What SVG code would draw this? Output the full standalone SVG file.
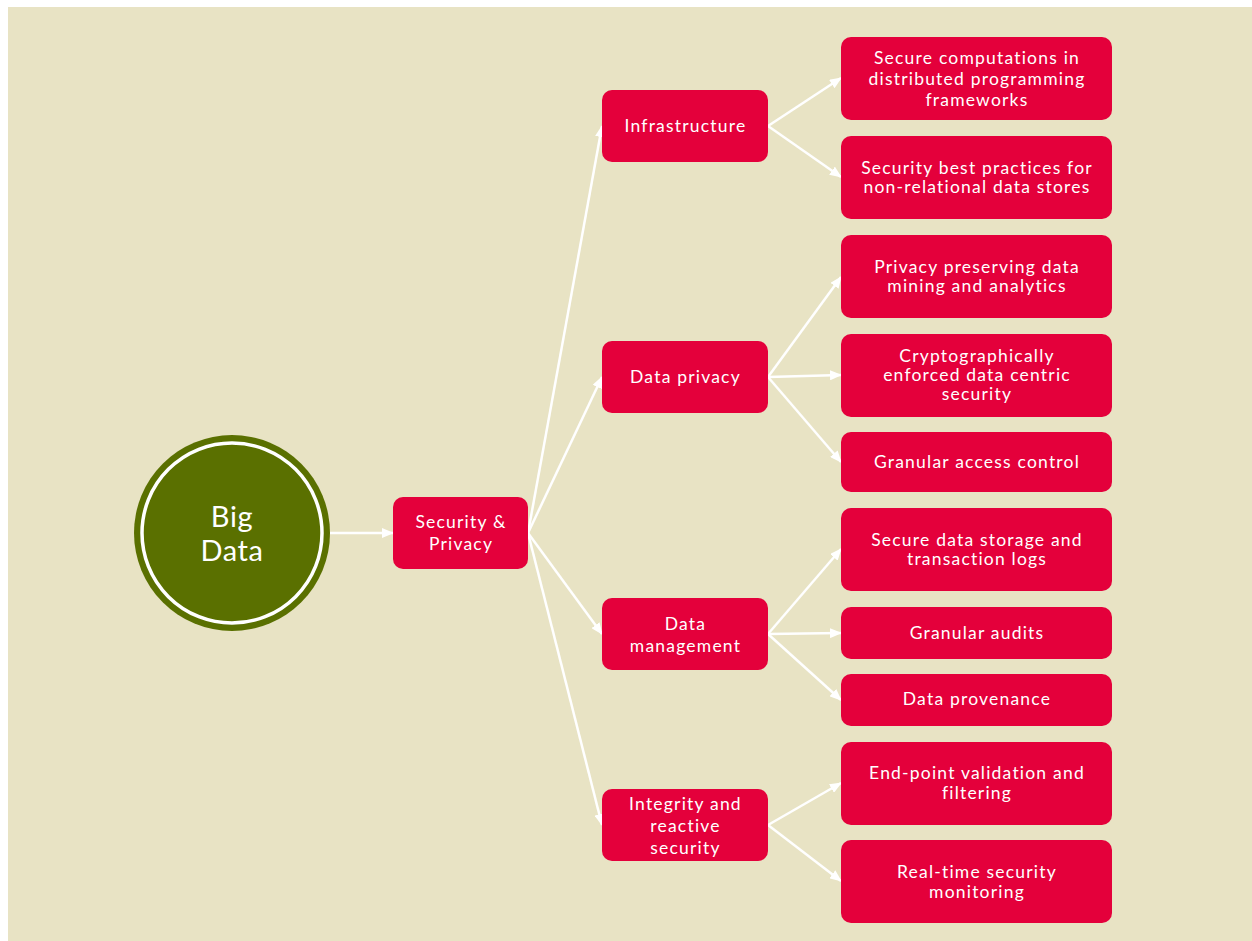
<svg xmlns="http://www.w3.org/2000/svg" width="1252" height="941" viewBox="0 0 1252 941">
<defs>
<style>
.bg{fill:#E8E3C4}
.box{fill:#E4003B}
.t{fill:#FFFFFF;font-family:Lato,"Liberation Sans",sans-serif;font-size:17.5px;letter-spacing:1.2px;text-anchor:middle}
.big{fill:#FFFFFF;font-family:Lato,"Liberation Sans",sans-serif;font-size:29px;letter-spacing:0.6px;text-anchor:middle}
.c{stroke:#FFFFFF;stroke-width:2.5;fill:none;marker-end:url(#ah)}
</style>
<marker id="ah" markerUnits="userSpaceOnUse" markerWidth="12" markerHeight="10" refX="11" refY="5" orient="auto">
<path d="M0,0 L12,5 L0,10 Z" fill="#FFFFFF"/>
</marker>
</defs>
<rect width="1252" height="941" fill="#FFFFFF"/>
<rect class="bg" x="8" y="7" width="1244" height="934"/>

<g id="connectors">
<line class="c" x1="330" y1="533" x2="393" y2="533"/>
<line class="c" x1="528" y1="533" x2="602" y2="126"/>
<line class="c" x1="528" y1="533" x2="602" y2="377"/>
<line class="c" x1="528" y1="533" x2="602" y2="634"/>
<line class="c" x1="528" y1="533" x2="602" y2="825"/>
<line class="c" x1="768" y1="126" x2="841" y2="78"/>
<line class="c" x1="768" y1="126" x2="841" y2="177"/>
<line class="c" x1="768" y1="377" x2="841" y2="277"/>
<line class="c" x1="768" y1="377" x2="841" y2="375"/>
<line class="c" x1="768" y1="377" x2="841" y2="462"/>
<line class="c" x1="768" y1="634" x2="841" y2="549"/>
<line class="c" x1="768" y1="634" x2="841" y2="633"/>
<line class="c" x1="768" y1="634" x2="841" y2="700"/>
<line class="c" x1="768" y1="825" x2="841" y2="783"/>
<line class="c" x1="768" y1="825" x2="841" y2="881"/>
</g>

<g id="big-data">
<circle cx="232" cy="533" r="98" fill="#5A7000"/>
<circle cx="232" cy="533" r="90" fill="none" stroke="#FFFFFF" stroke-width="3.5"/>
<text class="big" x="232" y="527">Big</text>
<text class="big" x="232" y="561">Data</text>
</g>

<g id="security-privacy">
<rect class="box" x="393" y="497" width="135" height="72" rx="10"/>
<text class="t" x="461" y="528">Security &amp;</text>
<text class="t" x="461" y="550">Privacy</text>
</g>

<g id="infrastructure">
<rect class="box" x="602" y="90" width="166" height="72" rx="10"/>
<text class="t" x="685.5" y="132">Infrastructure</text>
</g>
<g id="data-privacy">
<rect class="box" x="602" y="341" width="166" height="72" rx="10"/>
<text class="t" x="685.5" y="383">Data privacy</text>
</g>
<g id="data-management">
<rect class="box" x="602" y="598" width="166" height="72" rx="10"/>
<text class="t" x="685.5" y="630">Data</text>
<text class="t" x="685.5" y="652">management</text>
</g>
<g id="integrity">
<rect class="box" x="602" y="789" width="166" height="72" rx="10"/>
<text class="t" x="685.5" y="810">Integrity and</text>
<text class="t" x="685.5" y="832">reactive</text>
<text class="t" x="685.5" y="854">security</text>
</g>

<g id="secure-computations">
<rect class="box" x="841" y="37" width="271" height="83" rx="10"/>
<text class="t" x="977" y="64">Secure computations in</text>
<text class="t" x="977" y="85">distributed programming</text>
<text class="t" x="977" y="106">frameworks</text>
</g>
<g id="security-best-practices">
<rect class="box" x="841" y="136" width="271" height="83" rx="10"/>
<text class="t" x="977" y="174">Security best practices for</text>
<text class="t" x="977" y="193">non-relational data stores</text>
</g>
<g id="privacy-preserving">
<rect class="box" x="841" y="235" width="271" height="83" rx="10"/>
<text class="t" x="977" y="273">Privacy preserving data</text>
<text class="t" x="977" y="292">mining and analytics</text>
</g>
<g id="cryptographically">
<rect class="box" x="841" y="334" width="271" height="83" rx="10"/>
<text class="t" x="977" y="362">Cryptographically</text>
<text class="t" x="977" y="381">enforced data centric</text>
<text class="t" x="977" y="400">security</text>
</g>
<g id="granular-access">
<rect class="box" x="841" y="432" width="271" height="60" rx="10"/>
<text class="t" x="977" y="468">Granular access control</text>
</g>
<g id="secure-data-storage">
<rect class="box" x="841" y="508" width="271" height="83" rx="10"/>
<text class="t" x="977" y="546">Secure data storage and</text>
<text class="t" x="977" y="565">transaction logs</text>
</g>
<g id="granular-audits">
<rect class="box" x="841" y="607" width="271" height="52" rx="10"/>
<text class="t" x="977" y="639">Granular audits</text>
</g>
<g id="data-provenance">
<rect class="box" x="841" y="674" width="271" height="52" rx="10"/>
<text class="t" x="977" y="705">Data provenance</text>
</g>
<g id="end-point">
<rect class="box" x="841" y="742" width="271" height="83" rx="10"/>
<text class="t" x="977" y="779">End-point validation and</text>
<text class="t" x="977" y="799">filtering</text>
</g>
<g id="real-time">
<rect class="box" x="841" y="840" width="271" height="83" rx="10"/>
<text class="t" x="977" y="878">Real-time security</text>
<text class="t" x="977" y="898">monitoring</text>
</g>
</svg>
